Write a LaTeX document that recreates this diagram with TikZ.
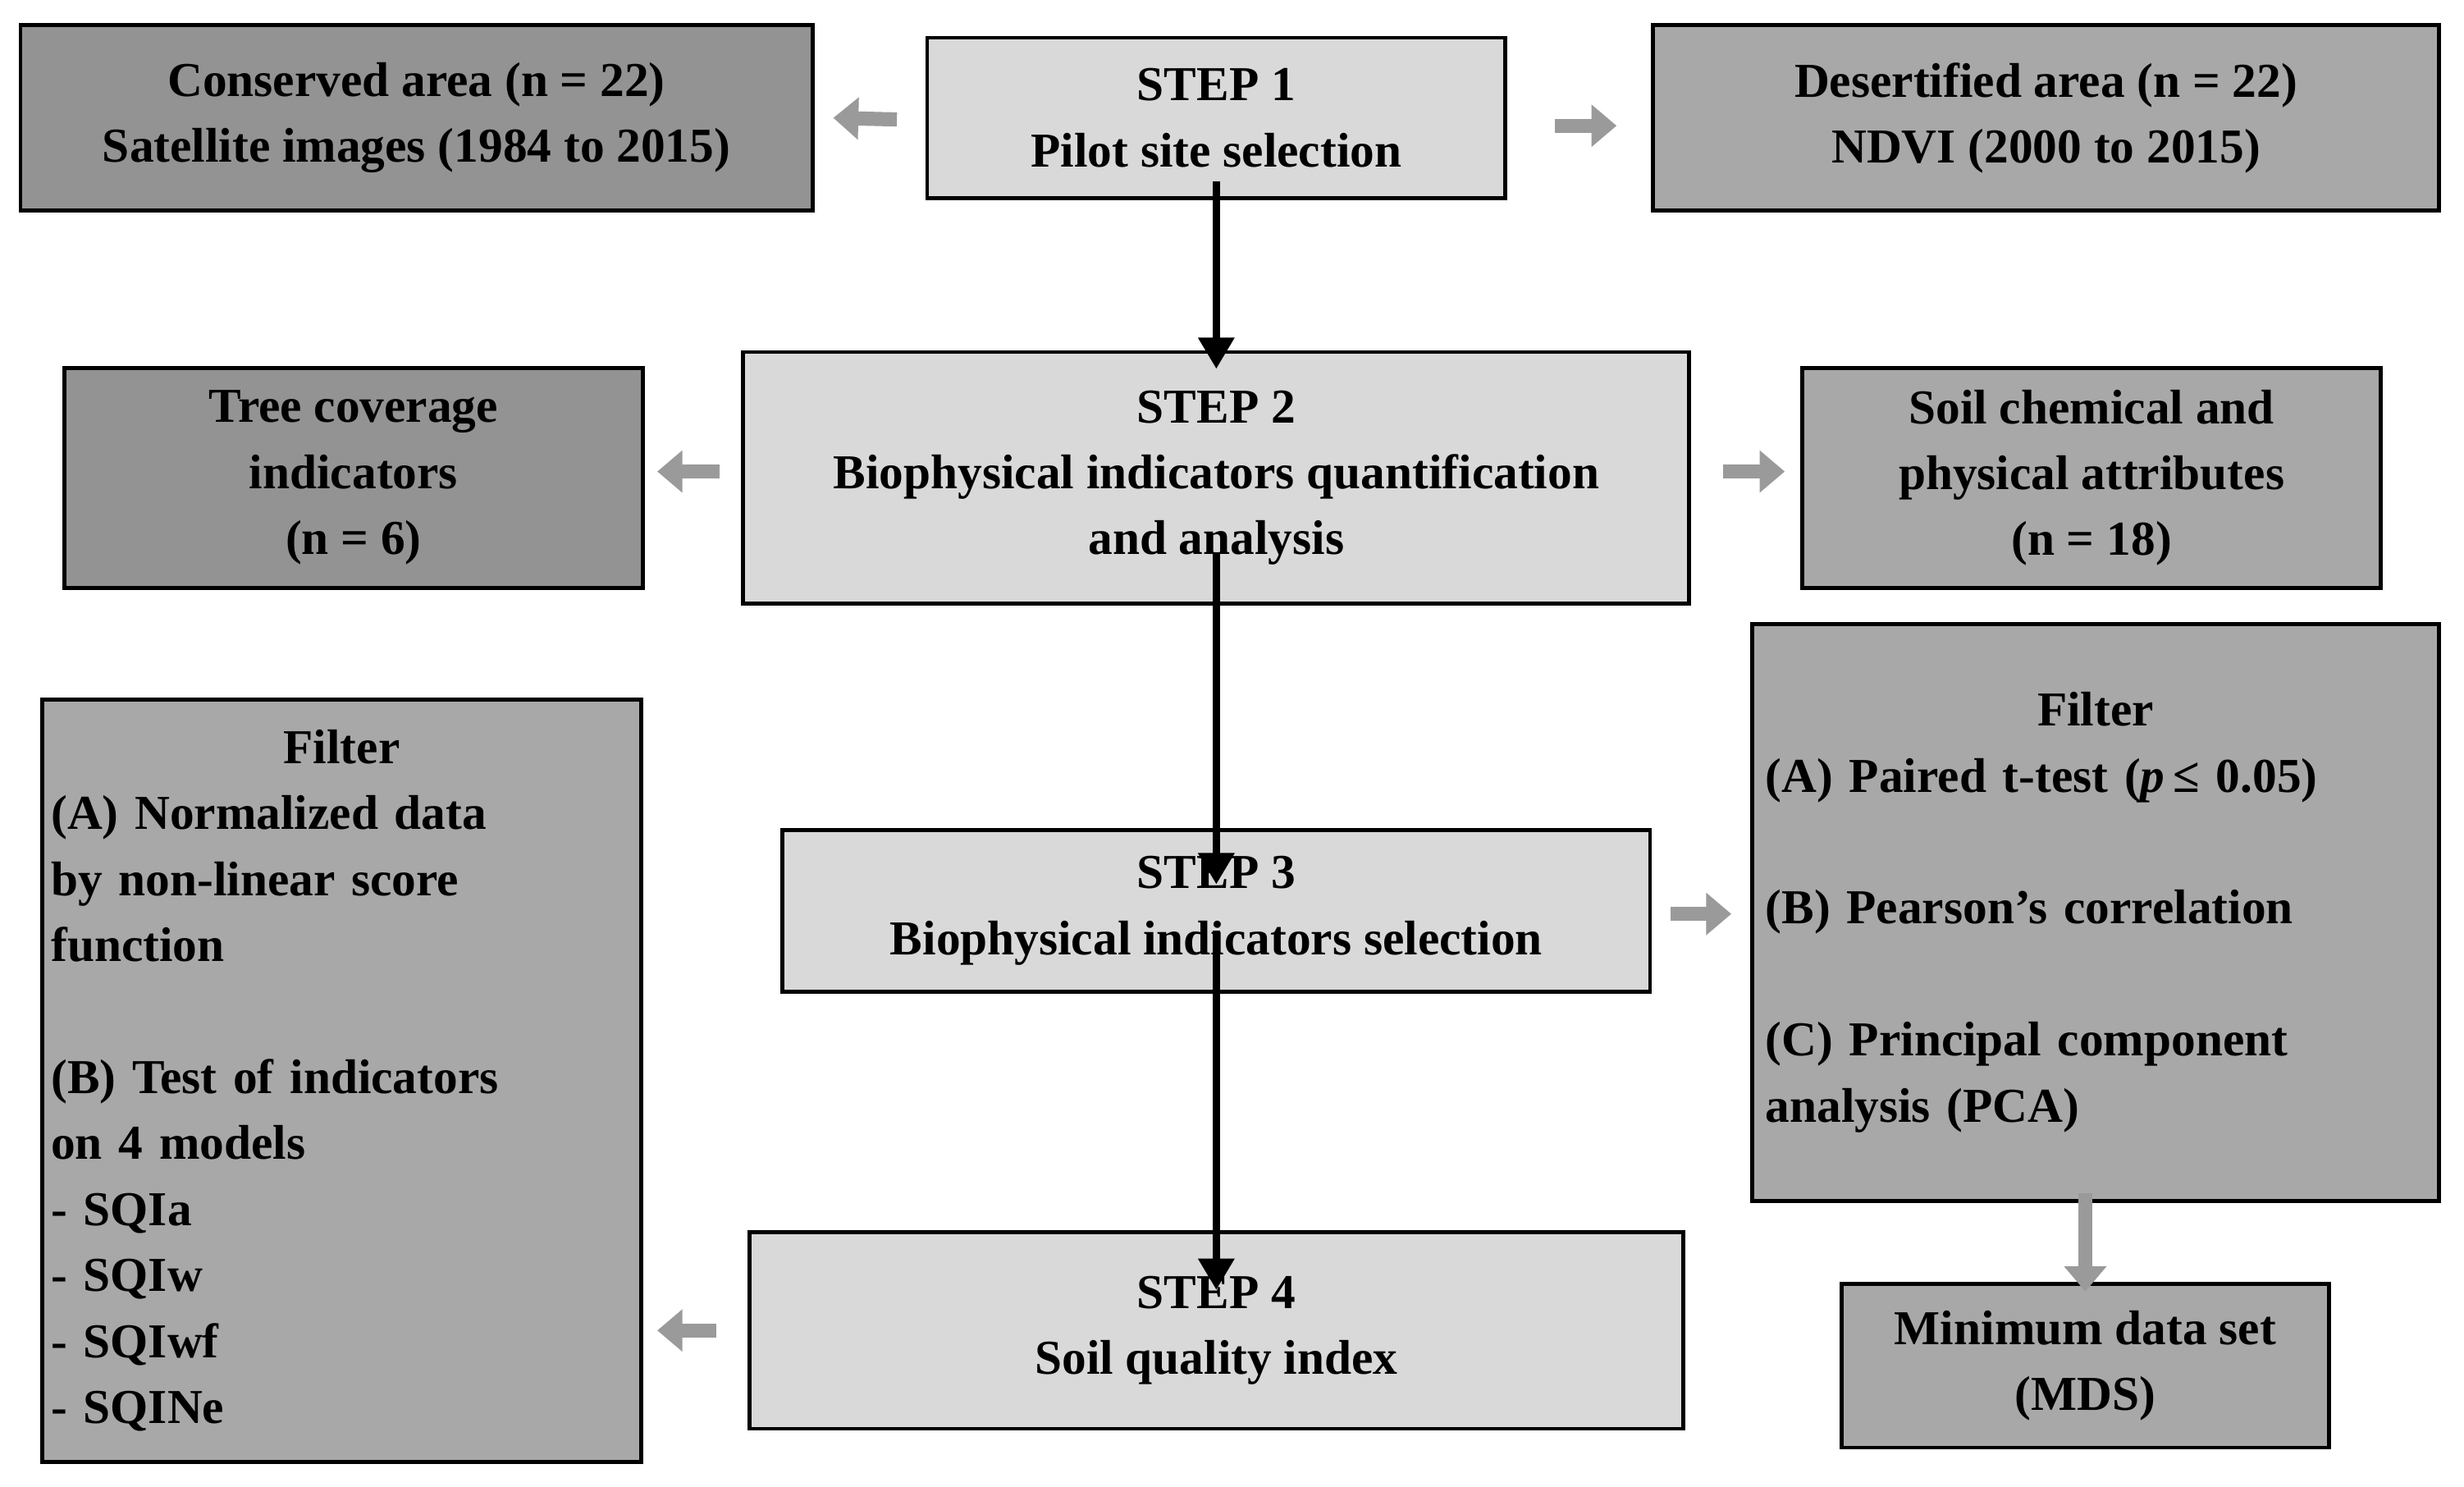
\documentclass[tikz,border=0pt]{standalone}
\usepackage{fontspec}
\setmainfont{Liberation Serif}
\usetikzlibrary{arrows.meta}
\definecolor{dk}{HTML}{939393}
\definecolor{md}{HTML}{A8A8A8}
\definecolor{lt}{HTML}{D9D9D9}
\definecolor{ag}{HTML}{9A9A9A}
\tikzset{
  box/.style={draw=black, line width=2.5pt, inner sep=0pt, align=center,
    font=\bfseries\fontsize{31}{42}\selectfont},
  garr/.style={draw=ag, line width=9pt, -{Triangle[length=16pt,width=26pt]}},
  barr/.style={draw=black, line width=5pt, -{Triangle[length=20pt,width=22pt]}}
}
\begin{document}
\begin{tikzpicture}[x=1pt,y=-1pt]
\useasboundingbox (0,0) rectangle (1568,946);
\node[box, fill=dk, minimum width=504pt, minimum height=118pt] (c) at (265,75) {Conserved area (n = 22)\\Satellite images (1984 to 2015)};
\node[box, fill=lt, minimum width=368pt, minimum height=102pt] (s1) at (774,75) {STEP 1\\Pilot site selection};
\node[box, fill=md, minimum width=500pt, minimum height=118pt] (d) at (1302,75) {Desertified area (n = 22)\\NDVI (2000 to 2015)};
\node[box, fill=dk, minimum width=368pt, minimum height=140pt] (t) at (225,304) {Tree coverage\\indicators\\(n = 6)};
\node[box, fill=lt, minimum width=602pt, minimum height=160pt] (s2) at (774,304) {STEP 2\\Biophysical indicators quantification\\and analysis};
\node[box, fill=md, minimum width=368pt, minimum height=140pt] (sc) at (1331,304) {Soil chemical and\\physical attributes\\(n = 18)};
\node[box, fill=md, minimum width=381pt, minimum height=485pt, text width=370pt, align=left] (fl) at (217.5,687.5) {\hspace*{\fill}Filter\hspace*{\fill}\null\\(A) Normalized data\\by non-linear score\\function\\[42pt](B) Test of indicators\\on 4 models\\- SQIa\\- SQIw\\- SQIwf\\- SQINe};
\node[box, fill=md, minimum width=437pt, minimum height=367pt, text width=420pt, align=left] (fr) at (1333.5,580.5) {\hspace*{\fill}Filter\hspace*{\fill}\null\\(A) Paired t-test (\textit{p}\,≤ 0.05)\\[42pt](B) Pearson’s correlation\\[42pt](C) Principal component\\analysis (PCA)};
\node[box, fill=lt, minimum width=552pt, minimum height=103pt] (s3) at (774,579.5) {STEP 3\\Biophysical indicators selection};
\node[box, fill=lt, minimum width=594pt, minimum height=125pt] (s4) at (774,846.5) {STEP 4\\Soil quality index};
\node[box, fill=md, minimum width=310pt, minimum height=104pt] (m) at (1327,869) {Minimum data set\\(MDS)};
\draw[garr] ([xshift=-18pt,yshift=-1pt]s1.west) -- ([xshift=12pt]s1.west -| c.east);
\draw[garr] ([xshift=30pt,yshift=-5pt]s1.east) -- ([xshift=-22pt,yshift=-5pt]d.west);
\draw[garr] ([xshift=-14pt,yshift=4pt]s2.west) -- ([xshift=8pt,yshift=4pt]s2.west -| t.east);
\draw[garr] ([xshift=20pt,yshift=4pt]s2.east) -- ([xshift=-10pt,yshift=4pt]s2.east -| sc.west);
\draw[garr] ([xshift=12pt,yshift=-2pt]s3.east) -- ([xshift=-12pt,yshift=-2pt]s3.east -| fr.west);
\draw[garr] ([xshift=-20pt]s4.west) -- ([xshift=9pt]s4.west -| fl.east);
\draw[garr] ([yshift=6pt]fr.south -| m.north) -- ([yshift=-6pt]m.north);
\draw[barr] ([yshift=12pt]s1.south) -- ([yshift=-12pt]s2.north);
\draw[barr] ([yshift=34pt]s2.south) -- ([yshift=-36pt]s3.north);
\draw[barr] ([yshift=40pt]s3.south) -- ([yshift=-38pt]s4.north);
\end{tikzpicture}
\end{document}
